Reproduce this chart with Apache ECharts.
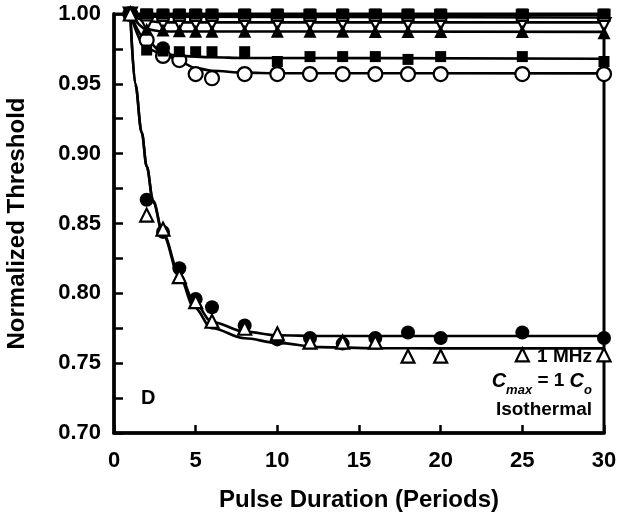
<!DOCTYPE html>
<html>
<head>
<meta charset="utf-8">
<script src="https://cdn.jsdelivr.net/npm/echarts@6/dist/echarts.min.js"></script>
<style>html,body{margin:0;padding:0;background:#fff;}#c{width:624px;height:526px;}</style>
</head>
<body>
<div id="c"></div>
<script>
// ---- data ----
const xs = [1, 2, 3, 4, 5, 6, 8, 10, 12, 14, 16, 18, 20, 25, 30];
const bigFilledCircles = [1.0, 0.867, 0.844, 0.818, 0.796, 0.790, 0.777, 0.767, 0.768, 0.764, 0.768, 0.772, 0.768, 0.772, 0.768];
const bigOpenTriangles = [1.0, 0.856, 0.846, 0.812, 0.794, 0.780, 0.775, 0.771, 0.765, 0.765, 0.765, 0.755, 0.755, 0.756, 0.756];
const topFilledSquares = [1.0, 1.0, 1.0, 1.0, 1.0, 1.0, 1.0, 1.0, 1.0, 1.0, 1.0, 1.0, 1.0, 1.0, 1.0];
const topOpenSquares = [1.0, 0.9993, 0.999, 0.999, 0.999, 0.999, 0.999, 0.999, 0.999, 0.999, 0.999, 0.999, 0.999, 0.999, 0.999];
const openDownTriangles = [1.0, 0.993, 0.9935, 0.9935, 0.9935, 0.9935, 0.9935, 0.9935, 0.9935, 0.9935, 0.9935, 0.9935, 0.9935, 0.9935, 0.9925];
const filledTriangles = [1.0, 0.989, 0.9886, 0.988, 0.9876, 0.9876, 0.9876, 0.9876, 0.9876, 0.9876, 0.9875, 0.9875, 0.9875, 0.9875, 0.9866];
const midFilledSquares = [1.0, 0.9742, 0.9735, 0.973, 0.973, 0.973, 0.973, 0.966, 0.9695, 0.9695, 0.9695, 0.9675, 0.9695, 0.9695, 0.966];
const midOpenCircles = [1.0, 0.9814, 0.970, 0.967, 0.957, 0.954, 0.957, 0.957, 0.957, 0.957, 0.957, 0.957, 0.957, 0.957, 0.957];
const extraFilledCircleX = [3];
const extraFilledCircleY = [0.9755];

// fitted curves
const fitUpper = [[1,1.0],[1.3,0.95],[1.7,0.915],[2,0.891],[2.4,0.866],[3,0.843],[4,0.814],[4.9,0.794],[6,0.7795],[8,0.7726],[10,0.770],[12.6,0.7695],[16,0.7695],[30,0.7695]];
const fitLower = [[1,1.0],[1.3,0.95],[1.7,0.915],[2,0.891],[2.4,0.865],[3,0.842],[4,0.812],[4.9,0.790],[6,0.775],[8,0.7678],[10,0.7645],[12.6,0.7615],[16,0.7607],[20,0.7606],[30,0.7606]];
const fitFilledSq = [[1,1.0],[2,0.9995],[30,0.9995]];
const fitOpenSq = [[1,1.0],[2,0.998],[30,0.9975]];
const fitDownTri = [[1,1.0],[2,0.995],[3,0.994],[30,0.994]];
const fitFilledTri = [[1,1.0],[2,0.989],[3,0.9875],[30,0.9872]];
const fitMidSq = [[1,1.0],[2,0.975],[3,0.9715],[4,0.970],[6,0.969],[8,0.9685],[30,0.968]];
const fitOpenCirc = [[1,1.0],[2,0.981],[3,0.972],[4,0.966],[5,0.9613],[6,0.9594],[8,0.958],[10,0.9576],[30,0.9575]];

const yTicks = [0.70, 0.75, 0.80, 0.85, 0.90, 0.95, 1.00];
const xTicks = [0, 5, 10, 15, 20, 25, 30];

const FONT = 'Liberation Sans, Arial, sans-serif';
const pair = (ys) => xs.map((x, i) => [x, ys[i]]);

function fitLine(data) {
  return { type: 'line', data: data, symbol: 'none', smooth: 0.35, smoothMonotone: 'x',
    lineStyle: { color: '#000', width: 2.6 }, z: 2, silent: true };
}
function marks(data, symbol, size, filled, extra) {
  return Object.assign({ type: 'scatter', data: data, symbol: symbol, symbolSize: size,
    itemStyle: { color: filled ? '#000' : '#fff', borderColor: '#000', borderWidth: filled ? 0 : 2.2, opacity: 1 },
    z: 3, silent: true }, extra || {});
}

const chart = echarts.init(document.getElementById('c'), null, { renderer: 'canvas' });
chart.setOption({
  animation: false,
  backgroundColor: '#fff',
  grid: { left: 114, right: 20, top: 14, bottom: 93, containLabel: false, outerBoundsMode: 'none',
    show: true, borderColor: '#000', borderWidth: 3, backgroundColor: 'transparent' },
  xAxis: {
    type: 'value', min: xTicks[0], max: xTicks[xTicks.length - 1], interval: 5,
    name: 'Pulse Duration (Periods)', nameLocation: 'middle', nameGap: 55,
    nameTextStyle: { fontFamily: FONT, fontWeight: 'bold', fontSize: 24, color: '#000' },
    axisLine: { show: true, lineStyle: { color: '#000', width: 3.5 } },
    axisTick: { show: true, inside: true, length: 8, lineStyle: { color: '#000', width: 2.5 } },
    axisLabel: { fontFamily: FONT, fontWeight: 'bold', fontSize: 22, color: '#000', margin: 17 },
    splitLine: { show: false }
  },
  yAxis: {
    type: 'value', min: yTicks[0], max: yTicks[yTicks.length - 1], interval: 0.05,
    name: 'Normalized Threshold', nameLocation: 'middle', nameGap: 85,
    nameTextStyle: { fontFamily: FONT, fontWeight: 'bold', fontSize: 24, color: '#000' },
    axisLine: { show: true, lineStyle: { color: '#000', width: 3.5 } },
    axisTick: { show: true, inside: true, length: 9, lineStyle: { color: '#000', width: 2.5 } },
    minorTick: { show: true, splitNumber: 2, length: 9, lineStyle: { color: '#000', width: 2.5 } },
    axisLabel: { fontFamily: FONT, fontWeight: 'bold', fontSize: 22, color: '#000', margin: 13,
      formatter: (v) => v.toFixed(2) },
    splitLine: { show: false }
  },
  series: [
    fitLine(fitOpenCirc), fitLine(fitMidSq), fitLine(fitFilledTri), fitLine(fitDownTri),
    fitLine(fitOpenSq), fitLine(fitFilledSq), fitLine(fitLower), fitLine(fitUpper),
    marks(pair(midOpenCircles), 'circle', 14, false),
    marks(pair(midFilledSquares), 'rect', 11, true),
    marks(extraFilledCircleX.map((x, i) => [x, extraFilledCircleY[i]]), 'circle', 14, true),
    marks(pair(openDownTriangles), 'triangle', 13, false, { symbolRotate: 180 }),
    marks(pair(filledTriangles), 'triangle', 13, true),
    marks(pair(topOpenSquares), 'rect', 11, false),
    marks(pair(topFilledSquares), 'rect', 11, true),
    marks(pair(bigFilledCircles), 'circle', 14, true),
    marks(pair(bigOpenTriangles), 'triangle', 13, false)
  ],
  graphic: [
    { type: 'text', left: 141, top: 388, style: { text: 'D', fontFamily: FONT, fontWeight: 'bold', fontSize: 20, fill: '#000' } },
    { type: 'text', right: 32, top: 347, style: { text: '1 MHz', fontFamily: FONT, fontWeight: 'bold', fontSize: 19, fill: '#000' } },
    { type: 'text', right: 32, top: 371, style: {
        text: '{c|C}{s|max}{n| = 1 }{c|C}{s|o}',
        rich: {
          c: { fontFamily: FONT, fontStyle: 'italic', fontWeight: 'bold', fontSize: 20, fill: '#000', lineHeight: 26, verticalAlign: 'top' },
          s: { fontFamily: FONT, fontStyle: 'italic', fontWeight: 'bold', fontSize: 13, fill: '#000', lineHeight: 26, verticalAlign: 'bottom' },
          n: { fontFamily: FONT, fontWeight: 'bold', fontSize: 19, fill: '#000', lineHeight: 26, verticalAlign: 'top' }
        } } },
    { type: 'text', right: 32, top: 400, style: { text: 'Isothermal', fontFamily: FONT, fontWeight: 'bold', fontSize: 19, fill: '#000' } }
  ]
});
</script>
</body>
</html>
